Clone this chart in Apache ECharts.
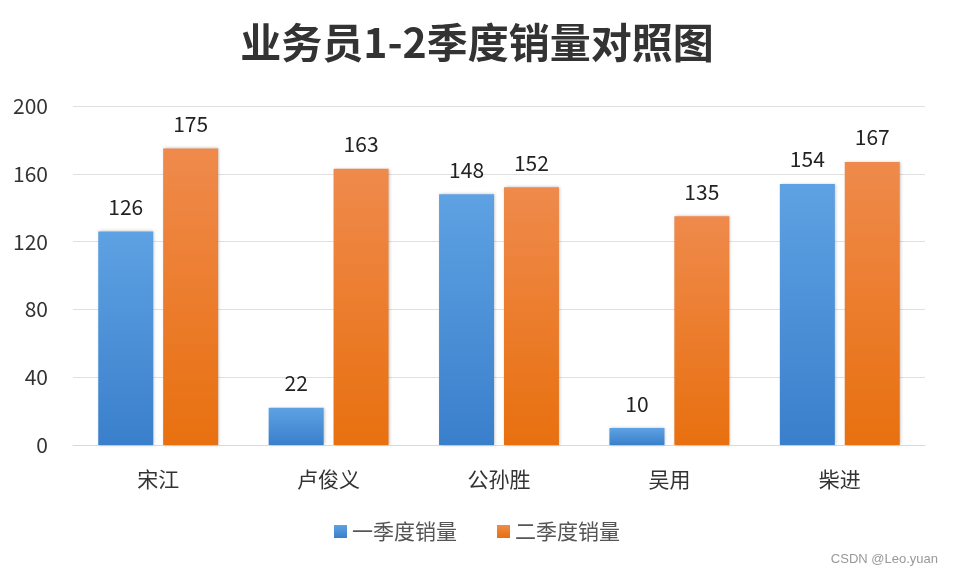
<!DOCTYPE html>
<html><head><meta charset="utf-8">
<script src="https://cdn.jsdelivr.net/npm/echarts@6/dist/echarts.min.js"></script>
<style>html,body{margin:0;padding:0;background:#fff}#c{width:954px;height:574px}</style>
</head><body><div id="c"></div>
<script>
const titleText = '业务员1-2季度销量对照图';
const categories = ['宋江', '卢俊义', '公孙胜', '吴用', '柴进'];
const seriesNames = ['一季度销量', '二季度销量'];
const q1 = [126, 22, 148, 10, 154];
const q2 = [175, 163, 152, 135, 167];
const yTicks = [0, 40, 80, 120, 160, 200];

const font = '"Noto Sans CJK SC", "Open Sans", sans-serif';
const chart = echarts.init(document.getElementById('c'));
function grad(top, bottom) {
  return new echarts.graphic.LinearGradient(0, 0, 0, 1, [{offset: 0, color: top}, {offset: 1, color: bottom}]);
}
chart.setOption({
  animation: false,
  backgroundColor: '#fff',
  title: {text: titleText, left: 'center', top: 17,
    textStyle: {fontFamily: font, fontSize: 41, fontWeight: 'bold', color: '#333'}},
  legend: {bottom: 27, left: 'center', itemWidth: 13, itemHeight: 13, itemGap: 40,
    icon: 'rect', textStyle: {fontFamily: font, fontSize: 21, color: '#555'}},
  grid: {left: 73, right: 29, top: 106, bottom: 129},
  xAxis: {type: 'category', data: categories,
    axisLine: {lineStyle: {color: '#d9d9d9'}}, axisTick: {show: false},
    axisLabel: {margin: 24, fontFamily: font, fontSize: 21, color: '#333'}},
  yAxis: {type: 'value', min: yTicks[0], max: yTicks[yTicks.length - 1], interval: 40,
    axisLine: {show: false}, axisTick: {show: false},
    splitLine: {lineStyle: {color: '#e0e0e0'}},
    axisLabel: {margin: 25, fontFamily: font, fontSize: 21, color: '#333'}},
  series: [
    {name: seriesNames[0], type: 'bar', data: q1, barWidth: 55, barGap: '18%',
      itemStyle: {color: grad('#5ea2e3', '#3a7fcb'), shadowColor: 'rgba(0,0,0,0.25)', shadowBlur: 3, shadowOffsetX: 1, shadowOffsetY: 0},
      label: {show: true, position: 'top', distance: 14, fontFamily: font, fontSize: 21, color: '#222'}},
    {name: seriesNames[1], type: 'bar', data: q2, barWidth: 55,
      itemStyle: {color: grad('#ef8a4c', '#e8700f'), shadowColor: 'rgba(0,0,0,0.25)', shadowBlur: 3, shadowOffsetX: 1, shadowOffsetY: 0},
      label: {show: true, position: 'top', distance: 14, fontFamily: font, fontSize: 21, color: '#222'}}
  ],
  color: ['#4a90d9', '#ec7a2a'],
  graphic: [{type: 'text', right: 16, bottom: 8,
    style: {text: 'CSDN @Leo.yuan', font: '13px "Liberation Sans", Arial, sans-serif', fill: '#999'}}]
});
</script></body></html>
